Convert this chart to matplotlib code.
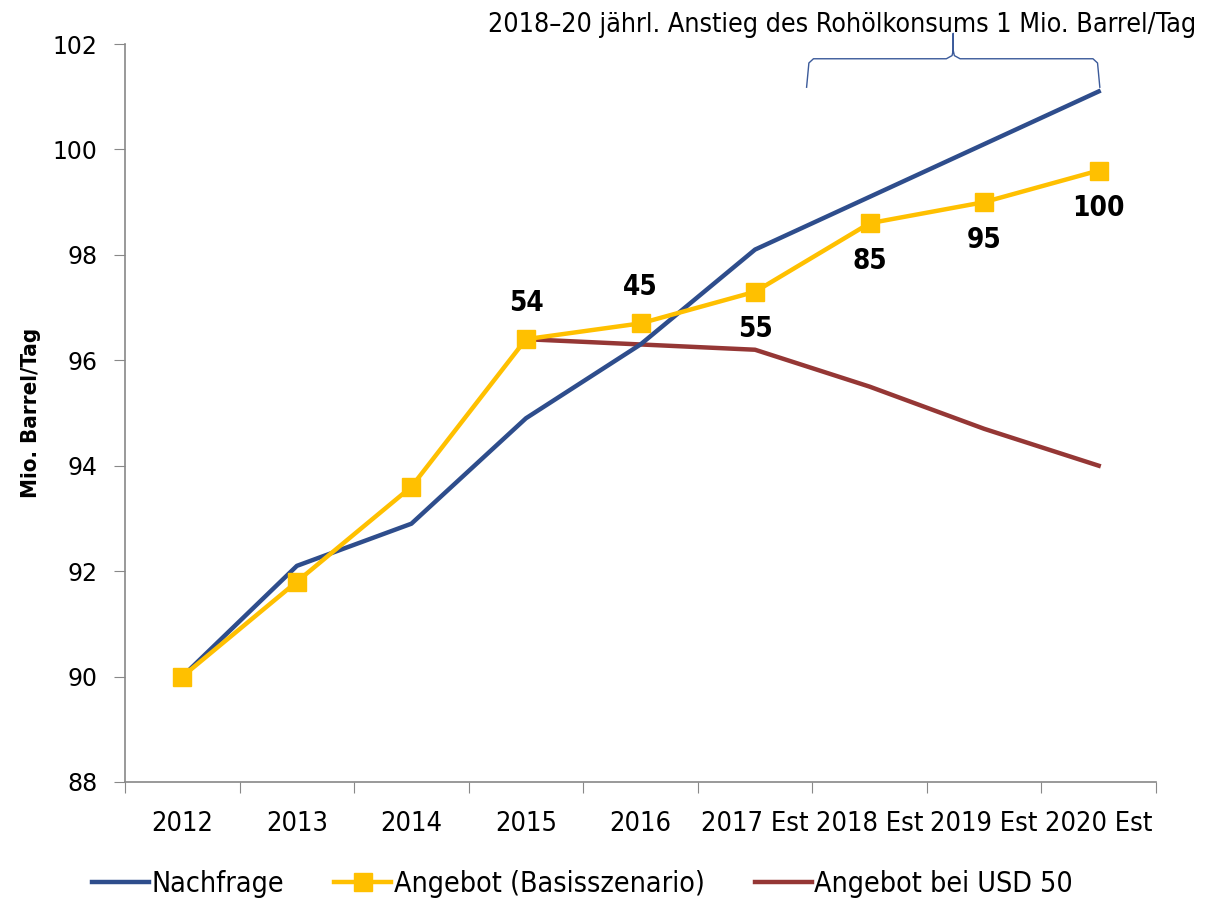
import matplotlib
matplotlib.use("Agg")
import matplotlib.pyplot as plt
import numpy as np

# Werte
years = ["2012", "2013", "2014", "2015", "2016", "2017 Est", "2018 Est", "2019 Est", "2020 Est"]
nachfrage = [90.0, 92.1, 92.9, 94.9, 96.3, 98.1, 99.1, 100.1, 101.1]
angebot = [90.0, 91.8, 93.6, 96.4, 96.7, 97.3, 98.6, 99.0, 99.6]
angebot_usd50 = [np.nan, np.nan, np.nan, 96.4, 96.3, 96.2, 95.5, 94.7, 94.0]
labels = ["", "", "", "54", "45", "55", "85", "95", "100"]
label_above = [True, True, True, True, True, False, False, False, False]

NARROW = dict(family="DejaVu Sans", stretch="condensed")
BLUE = "#2E4D8C"
YELLOW = "#FFC000"
RED = "#953735"

fig = plt.figure(figsize=(12.06, 8.98), dpi=100)
ax = fig.add_axes([0.1037, 0.1292, 0.8548, 0.8218])

x = np.arange(len(years))
ax.plot(x, nachfrage, color=BLUE, lw=3.2, label="Nachfrage", zorder=3)
ax.plot(x, angebot, color=YELLOW, lw=3.2, marker="s", markersize=13,
        label="Angebot (Basisszenario)", zorder=4)
ax.plot(x, angebot_usd50, color=RED, lw=3.2, label="Angebot bei USD 50", zorder=2)

for i, txt in enumerate(labels):
    if not txt:
        continue
    off = 26 if label_above[i] else -27
    ax.annotate(txt, (x[i], angebot[i]), xytext=(0, off), textcoords="offset points",
                ha="center", va="center", fontsize=20, fontweight="bold", **NARROW)

ax.set_xlim(-0.5, len(years) - 0.5)
ax.set_ylim(88, 102)
ax.set_yticks(np.arange(88, 103, 2))
ax.set_xticks(np.arange(-0.5, len(years), 1))
ax.set_xticklabels([])
ax.set_xticks(x, minor=True)
ax.set_xticklabels(years, minor=True, fontsize=19.5, **NARROW)
ax.tick_params(axis="x", which="major", length=8, direction="out", color="#888888")
ax.tick_params(axis="x", which="minor", length=0, pad=21)
ax.tick_params(axis="y", length=8, color="#888888", labelsize=17, pad=12)
for side in ["top", "right"]:
    ax.spines[side].set_visible(False)
for side in ["left", "bottom"]:
    ax.spines[side].set_color("#888888")
    ax.spines[side].set_linewidth(1.2)

ax.set_ylabel("Mio. Barrel/Tag", fontsize=16, fontweight="bold", labelpad=8, **NARROW)

# Klammer über 2018-2020
bx0, bx1, bmid = 5.45, 8.01, 6.73
ybot, ytop, ytip = 101.18, 101.72, 102.2
left_x = [bx0, bx0 + 0.02, bx0 + 0.06, bmid - 0.06, bmid - 0.01, bmid]
left_y = [ybot, ytop - 0.08, ytop, ytop, ytop + 0.06, ytop + 0.16]
right_x = [2 * bmid - v for v in left_x[::-1]]
right_x = [bmid + (bx1 - bx0) / (2 * (bmid - bx0)) * (v - bmid) for v in right_x]
brace_x = left_x + [bmid] + right_x
brace_y = left_y + [ytip] + left_y[::-1]
ax.plot(brace_x, brace_y, color="#3B5A9A", lw=1.0, clip_on=False)
ax.text(5.76, 102.36, "2018\u201320 jährl. Anstieg des Rohölkonsums 1 Mio. Barrel/Tag",
        ha="center", va="center", fontsize=19.3, **NARROW)

fig.legend(loc="lower left", bbox_to_anchor=(0.055, -0.028), ncol=3, frameon=False,
           prop={"family": "DejaVu Sans", "stretch": "condensed", "size": 20.5},
           handlelength=2.0, handletextpad=0.1, columnspacing=1.75)

fig.savefig("out.png", dpi=100)
